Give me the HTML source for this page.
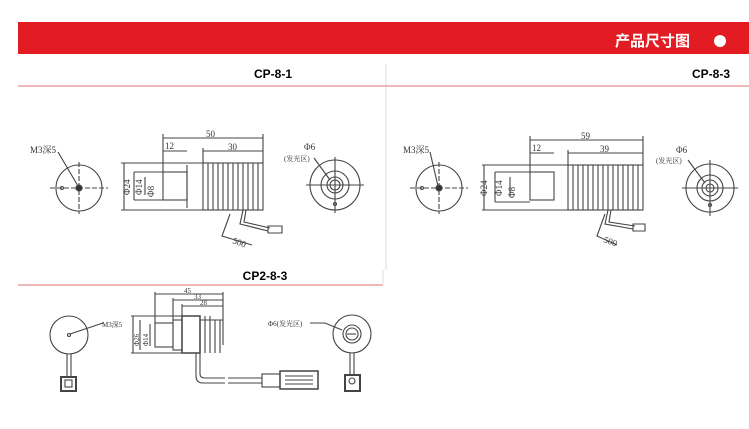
<!DOCTYPE html>
<html><head><meta charset="utf-8"><style>
body{margin:0;background:#fff;width:749px;height:429px;overflow:hidden;font-family:"Liberation Sans","Noto Sans CJK SC",sans-serif}
svg{position:absolute;left:0;top:0}
</style></head><body>
<svg width="749" height="429" viewBox="0 0 749 429" font-family="Liberation Serif, Noto Serif CJK SC, serif">
<rect x="18" y="22" width="731" height="32" fill="#e31b23"/>
<text x="690" y="46" font-family="Liberation Sans, Noto Sans CJK SC, sans-serif" font-weight="bold" font-size="15" fill="#fff" text-anchor="end">产品尺寸图</text>
<circle cx="720" cy="41" r="6" fill="#fff"/>
<line x1="386" y1="64" x2="386" y2="270" stroke="#ddd"/>
<line x1="18" y1="86" x2="749" y2="86" stroke="#e8a0a0" stroke-width="1.5"/>
<text x="273" y="78" font-family="Liberation Sans, sans-serif" font-weight="bold" font-size="12" text-anchor="middle">CP-8-1</text>
<text x="730" y="78" font-family="Liberation Sans, sans-serif" font-weight="bold" font-size="12" text-anchor="end">CP-8-3</text>
<text x="265" y="280" font-family="Liberation Sans, sans-serif" font-weight="bold" font-size="12" text-anchor="middle">CP2-8-3</text>
<line x1="18" y1="285" x2="383" y2="285" stroke="#e8a0a0" stroke-width="1.5"/>
<line x1="383" y1="270" x2="383" y2="285" stroke="#ddd"/>

<g fill="none" stroke="#444" stroke-width="1.1" font-size="9">
<!-- CP-8-1 -->
<circle cx="79" cy="188" r="23"/>
<line x1="50" y1="188" x2="108" y2="188" stroke-dasharray="5,2"/><line x1="79" y1="162" x2="79" y2="214" stroke-dasharray="5,2"/>
<circle cx="79" cy="188" r="3" fill="#333"/><circle cx="62" cy="188" r="1.5"/>
<line x1="58" y1="152" x2="78" y2="186"/>
<text x="30" y="153" fill="#333" stroke="none">M3深5</text>
<line x1="121" y1="163" x2="203" y2="163"/><line x1="121" y1="210" x2="203" y2="210"/>
<line x1="124" y1="163" x2="124" y2="210"/><line x1="134" y1="172" x2="134" y2="200"/><line x1="145" y1="177" x2="145" y2="195"/>
<rect x="163" y="172" width="24" height="28"/><line x1="187" y1="165" x2="187" y2="208"/>
<line x1="134" y1="172" x2="163" y2="172"/><line x1="134" y1="200" x2="163" y2="200"/>
<rect x="203" y="163" width="60" height="47"/>
<path d="M208 163V210M213 163V210M218 163V210M223 163V210M228 163V210M233 163V210M238 163V210M243 163V210M248 163V210M253 163V210M258 163V210"/>
<line x1="163" y1="138" x2="263" y2="138"/><line x1="163" y1="134" x2="163" y2="172"/><line x1="263" y1="134" x2="263" y2="163"/>
<line x1="163" y1="151" x2="187" y2="151"/><line x1="203" y1="151" x2="263" y2="151"/><line x1="203" y1="148" x2="203" y2="163"/>
<text x="206" y="137" fill="#333" stroke="none">50</text><text x="228" y="150" fill="#333" stroke="none">30</text><text x="165" y="149" fill="#333" stroke="none">12</text>
<text x="130" y="195" fill="#333" stroke="none" transform="rotate(-90 130 195)">Φ24</text>
<text x="142" y="195" fill="#333" stroke="none" transform="rotate(-90 142 195)">Φ14</text>
<text x="154" y="197" fill="#333" stroke="none" transform="rotate(-90 154 197)">Φ8</text>
<path d="M243 210L240 224L268 231"/><path d="M246 210L244 222L270 228"/>
<path d="M230 214L222 236L252 245"/><text x="232" y="243" fill="#333" stroke="none" transform="rotate(20 232 243)">500</text>
<path d="M268 226L282 226L282 233L268 233Z"/>
<circle cx="335" cy="185" r="25"/><circle cx="335" cy="185" r="14"/><circle cx="335" cy="185" r="8"/><circle cx="335" cy="185" r="5"/>
<line x1="306" y1="185" x2="364" y2="185"/><line x1="335" y1="157" x2="335" y2="213"/><circle cx="335" cy="204" r="1.5"/>
<line x1="314" y1="158" x2="330" y2="180"/>
<text x="304" y="150" fill="#333" stroke="none">Φ6</text><text x="284" y="161" fill="#333" stroke="none" font-size="7">(发光区)</text>

<!-- CP-8-3 -->
<circle cx="439" cy="188" r="23"/>
<line x1="410" y1="188" x2="468" y2="188" stroke-dasharray="5,2"/><line x1="439" y1="162" x2="439" y2="214" stroke-dasharray="5,2"/>
<circle cx="439" cy="188" r="3" fill="#333"/><circle cx="422" cy="188" r="1.5"/>
<line x1="430" y1="152" x2="438" y2="186"/>
<text x="403" y="153" fill="#333" stroke="none">M3深5</text>
<line x1="482" y1="165" x2="568" y2="165"/><line x1="482" y1="210" x2="568" y2="210"/>
<line x1="484" y1="165" x2="484" y2="210"/><line x1="495" y1="172" x2="495" y2="202"/><line x1="510" y1="177" x2="510" y2="197"/>
<rect x="530" y="172" width="24" height="28"/>
<line x1="495" y1="172" x2="530" y2="172"/><line x1="495" y1="202" x2="530" y2="202"/>
<rect x="568" y="165" width="75" height="45"/>
<path d="M573 165V210M578 165V210M583 165V210M588 165V210M593 165V210M598 165V210M603 165V210M608 165V210M613 165V210M618 165V210M623 165V210M628 165V210M633 165V210M638 165V210"/>
<line x1="530" y1="140" x2="643" y2="140"/><line x1="530" y1="136" x2="530" y2="172"/><line x1="643" y1="136" x2="643" y2="165"/>
<line x1="530" y1="153" x2="554" y2="153"/><line x1="568" y1="153" x2="643" y2="153"/><line x1="568" y1="150" x2="568" y2="165"/>
<text x="581" y="139" fill="#333" stroke="none">59</text><text x="600" y="152" fill="#333" stroke="none">39</text><text x="532" y="151" fill="#333" stroke="none">12</text>
<text x="487" y="196" fill="#333" stroke="none" transform="rotate(-90 487 196)">Φ24</text>
<text x="502" y="196" fill="#333" stroke="none" transform="rotate(-90 502 196)">Φ14</text>
<text x="515" y="198" fill="#333" stroke="none" transform="rotate(-90 515 198)">Φ8</text>
<path d="M608 210L605 224L633 229"/><path d="M611 210L609 222L635 226"/>
<path d="M605 214L597 236L617 245"/><text x="603" y="242" fill="#333" stroke="none" transform="rotate(20 603 242)">500</text>
<path d="M633 224L645 224L645 231L633 231Z"/>
<circle cx="710" cy="188" r="24"/><circle cx="710" cy="188" r="13"/><circle cx="710" cy="188" r="8"/><circle cx="710" cy="188" r="4"/>
<line x1="682" y1="188" x2="738" y2="188"/><line x1="710" y1="160" x2="710" y2="216"/><circle cx="710" cy="205" r="1.5"/>
<line x1="688" y1="160" x2="705" y2="183"/>
<text x="676" y="153" fill="#333" stroke="none">Φ6</text><text x="656" y="163" fill="#333" stroke="none" font-size="7">(发光区)</text>

<!-- CP2-8-3 -->
<circle cx="69" cy="335" r="19"/><circle cx="69" cy="335" r="1.5"/>
<line x1="70" y1="334" x2="103" y2="323"/><text x="102" y="327" fill="#333" stroke="none" font-size="7">M3深5</text>
<line x1="67" y1="354" x2="67" y2="378"/><line x1="71" y1="354" x2="71" y2="378"/>
<rect x="61" y="377" width="15" height="14" stroke-width="2"/><rect x="65" y="380" width="7" height="7"/>
<line x1="131" y1="316" x2="182" y2="316"/><line x1="131" y1="353" x2="182" y2="353"/>
<line x1="133" y1="316" x2="133" y2="353"/><line x1="140" y1="320" x2="140" y2="350"/><line x1="150" y1="324" x2="150" y2="346"/>
<rect x="155" y="323" width="18" height="24"/><rect x="173" y="320" width="9" height="30"/>
<rect x="182" y="316" width="18" height="37" stroke-width="1.5"/>
<path d="M200 320V353M205 316V353M210 316V353M215 320V353M220 320V353"/><line x1="200" y1="320" x2="223" y2="320"/><line x1="223" y1="320" x2="223" y2="345"/>
<line x1="155" y1="294" x2="223" y2="294"/><line x1="155" y1="292" x2="155" y2="323"/><line x1="223" y1="292" x2="223" y2="320"/>
<line x1="173" y1="300" x2="223" y2="300"/><line x1="173" y1="298" x2="173" y2="320"/>
<line x1="182" y1="306" x2="223" y2="306"/><line x1="182" y1="304" x2="182" y2="316"/>
<text x="184" y="293" fill="#333" stroke="none" font-size="7">45</text><text x="194" y="299" fill="#333" stroke="none" font-size="7">33</text><text x="200" y="305" fill="#333" stroke="none" font-size="7">28</text>
<text x="139" y="346" fill="#333" stroke="none" font-size="7" transform="rotate(-90 139 346)">Φ26</text>
<text x="148" y="346" fill="#333" stroke="none" font-size="7" transform="rotate(-90 148 346)">Φ14</text>
<path d="M196 353V376Q196 383 203 383H225"/><path d="M200 353V374Q200 378 205 378H225"/>
<path d="M228 378H262M228 383H262"/>
<rect x="262" y="374" width="18" height="13"/><rect x="280" y="371" width="38" height="18" stroke-width="1.5"/>
<path d="M285 376H313M285 380H313M285 384H313"/>
<circle cx="352" cy="334" r="19"/><circle cx="352" cy="334" r="9"/><circle cx="352" cy="334" r="6"/>
<line x1="347" y1="334" x2="356" y2="334"/>
<path d="M310 323H325L342 330"/><text x="268" y="326" fill="#333" stroke="none" font-size="7">Φ6(发光区)</text>
<line x1="350" y1="353" x2="350" y2="375"/><line x1="354" y1="353" x2="354" y2="375"/>
<rect x="345" y="375" width="15" height="16" stroke-width="2"/><circle cx="352" cy="381" r="3"/>
</g>
</svg>
</body></html>
